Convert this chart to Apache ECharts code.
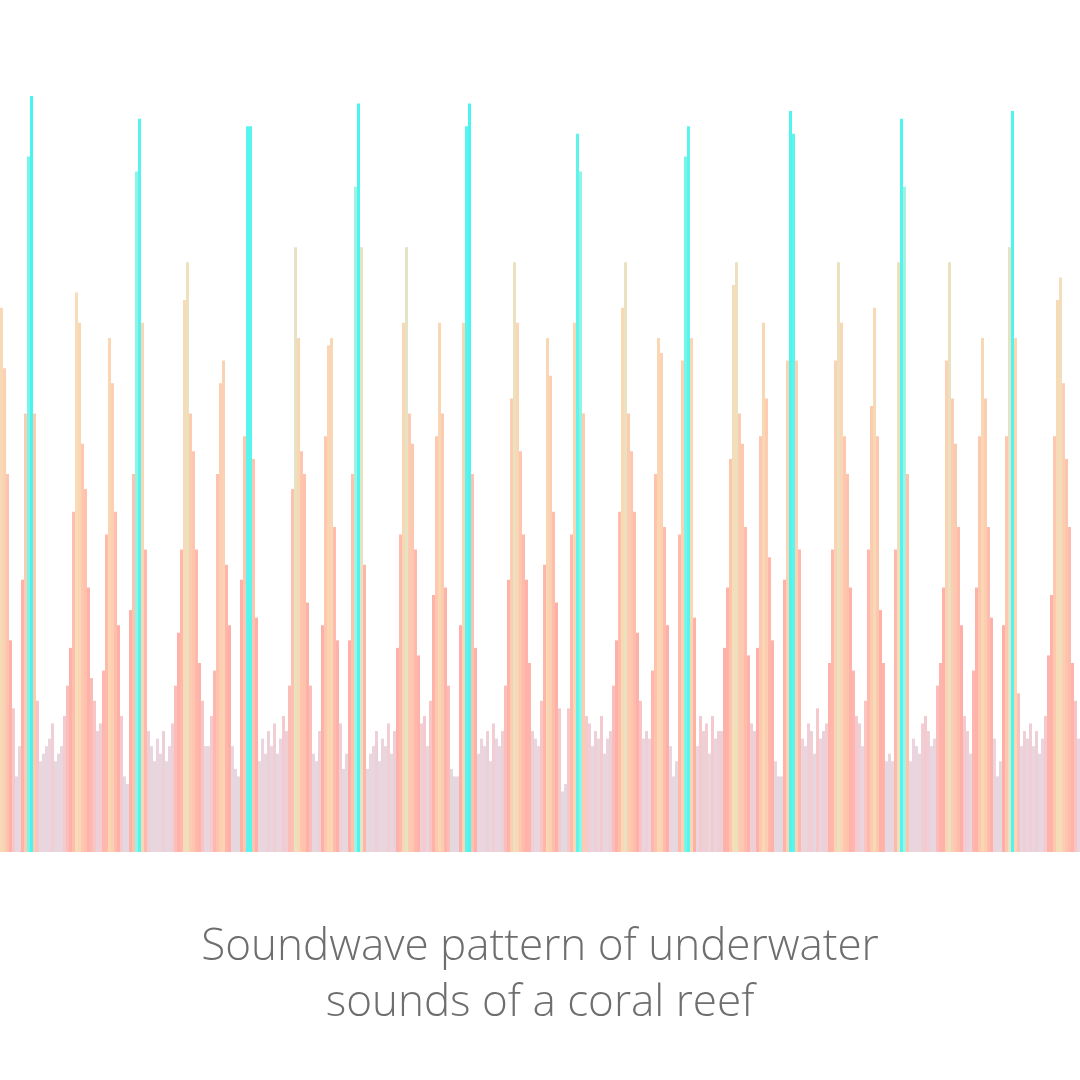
<!DOCTYPE html>
<html>
<head>
<meta charset="utf-8">
<script src="https://cdn.jsdelivr.net/npm/echarts@6/dist/echarts.min.js"></script>
<style>
html,body{margin:0;padding:0;background:#ffffff;}
#chart{width:1080px;height:1080px;}
</style>
</head>
<body>
<div id="chart"></div>
<script>
// amplitude (% of max) per 3px time slice, read left to right
const amplitude = [
  72,64,50,28,19,10,14,36,58,92,100,58,20,12,13,14,15,17,12,13,
  14,18,22,27,45,74,70,54,48,35,23,20,16,17,24,42,68,62,45,30,
  18,10,9,32,50,90,97,70,40,16,14,12,15,13,16,12,14,17,22,29,
  40,73,78,58,53,40,25,20,14,14,18,24,50,62,65,38,30,14,11,10,
  36,55,96,96,52,31,12,15,13,16,14,17,13,15,18,16,22,48,80,68,
  53,50,33,22,13,12,16,30,55,67,68,43,28,17,11,13,28,50,88,99,
  80,38,11,13,14,16,12,15,14,17,13,16,27,42,70,80,58,54,40,26,
  17,18,14,20,34,55,70,58,35,22,11,10,10,30,70,96,99,50,27,13,
  15,14,16,12,17,15,14,16,22,36,60,78,70,53,42,36,25,16,15,14,
  20,38,68,63,45,33,19,8,9,19,42,70,95,90,58,18,17,14,16,15,
  18,13,15,16,22,28,45,72,78,58,53,45,29,20,15,16,15,24,50,68,
  66,43,30,14,10,12,42,65,92,96,68,31,14,18,16,17,13,18,15,16,
  16,27,35,52,75,78,58,54,43,26,17,16,27,55,70,60,39,28,12,10,
  10,36,65,98,95,65,40,15,14,17,16,13,19,15,16,17,25,40,65,78,
  70,55,50,35,24,18,17,14,20,40,59,72,55,32,25,12,13,12,40,78,
  97,88,50,12,15,14,13,17,18,16,14,15,22,25,35,65,78,60,54,43,
  30,18,16,13,24,35,55,68,60,43,31,15,10,12,30,55,80,98,68,21,
  14,16,15,17,14,16,13,15,18,26,34,55,73,76,62,52,43,25,20,15
];
const timeSlices = amplitude.map((_, i) => String(i));
const titleLines = ['Soundwave pattern of underwater', 'sounds of a coral reef'];

const chart = echarts.init(document.getElementById('chart'), null, {renderer: 'canvas'});
chart.setOption({
  backgroundColor: '#ffffff',
  animation: false,
  title: {
    text: titleLines.join('\n'),
    left: 'center',
    top: 914,
    textStyle: {
      fontFamily: 'Open Sans',
      fontWeight: 300,
      fontSize: 44,
      lineHeight: 56,
      color: '#6e6e6e',
      align: 'center'
    }
  },
  grid: {left: 0, right: 0, top: 96, bottom: 228},
  xAxis: {
    type: 'category',
    data: timeSlices,
    show: false,
    boundaryGap: true
  },
  yAxis: {
    type: 'value',
    min: 0,
    max: 100,
    show: false
  },
  visualMap: {
    show: false,
    type: 'continuous',
    dimension: 1,
    min: 0,
    max: 100,
    inRange: {
      color: ['#d8d6e2', '#dcd4e0', '#e0d2dc', '#e8ced8', '#f8bcbc', '#ffa89e', '#ffa49c',
              '#ffa89c', '#ffae9e', '#ffb4a0', '#ffbaa2', '#fec0a4', '#fcc6a6', '#fbcca8',
              '#f8d2aa', '#f4d8ae', '#e0e0bc', '#b4eed2', '#7ef2e2', '#44f4ec', '#2ef2ee']
    }
  },
  series: [{
    type: 'bar',
    data: amplitude,
    barWidth: '100%',
    barCategoryGap: '0%',
    itemStyle: {opacity: 0.88},
    silent: true
  }]
});
</script>
</body>
</html>
